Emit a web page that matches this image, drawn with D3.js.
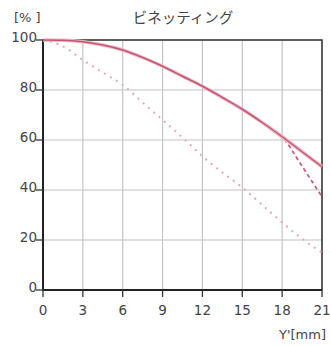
<!DOCTYPE html>
<html>
<head>
<meta charset="utf-8">
<script src="https://cdn.jsdelivr.net/npm/d3@7"></script>
<style>
  body { margin: 0; background: #fff; }
  text { font-family: "DejaVu Sans", sans-serif; fill: #444; }
</style>
</head>
<body>
<svg id="chart" width="331" height="346"></svg>
<script>
const imageHeight = [0, 1.5, 3, 4.5, 6, 7.5, 9, 10.5, 12, 13.5, 15, 16.5, 18, 19.5, 21];
const openWide   = [100, 99.9, 99.3, 98, 96, 93, 89.5, 85.5, 81.5, 77, 72.3, 67, 61.3, 55.3, 49.3];
const stoppedAlt = [100, 99.9, 99.3, 98, 96, 93, 89.5, 85.5, 81.5, 77, 72.3, 67, 61.3, 49.5, 37.3];
const cornerFall = [100, 97.5, 92, 87, 82, 75, 68, 61, 53.5, 47, 41, 34, 27, 20.5, 15];
const xTicks = [0, 3, 6, 9, 12, 15, 18, 21];
const yTicks = [0, 20, 40, 60, 80, 100];

const svg = d3.select("#chart");
const margin = {left: 43, right: 9, top: 40, bottom: 56};
const W = 331, H = 346;

const x = d3.scaleLinear().domain([0, 21]).range([margin.left, W - margin.right]);
const y = d3.scaleLinear().domain([0, 100]).range([H - margin.bottom, margin.top]);

// grid
svg.append("g").selectAll("line.vg").data(xTicks).join("line")
  .attr("x1", d => x(d)).attr("x2", d => x(d))
  .attr("y1", y(100)).attr("y2", y(0))
  .attr("stroke", "#c4c4c4").attr("stroke-width", 1.2);
svg.append("g").selectAll("line.hg").data(yTicks).join("line")
  .attr("x1", x(0)).attr("x2", x(21))
  .attr("y1", d => y(d)).attr("y2", d => y(d))
  .attr("stroke", "#c4c4c4").attr("stroke-width", 1.2);

// frame
svg.append("rect")
  .attr("x", x(0)).attr("y", y(100))
  .attr("width", x(21) - x(0)).attr("height", y(0) - y(100))
  .attr("fill", "none").attr("stroke", "#333").attr("stroke-width", 1.5);
svg.append("line").attr("x1", x(0)).attr("x2", x(0)).attr("y1", y(100)).attr("y2", y(0))
  .attr("stroke", "#222").attr("stroke-width", 2);
svg.append("line").attr("x1", x(0)).attr("x2", x(21)).attr("y1", y(0)).attr("y2", y(0))
  .attr("stroke", "#222").attr("stroke-width", 2);

// ticks
svg.append("g").selectAll("line").data(yTicks).join("line")
  .attr("x1", x(0) - 7).attr("x2", x(0))
  .attr("y1", d => y(d)).attr("y2", d => y(d))
  .attr("stroke", "#333").attr("stroke-width", 1.3);
svg.append("g").selectAll("text").data(yTicks).join("text")
  .attr("x", x(0) - 6).attr("y", d => y(d) + 2)
  .attr("text-anchor", "end").attr("font-size", 13.5)
  .text(d => d);
svg.append("g").selectAll("line").data(xTicks).join("line")
  .attr("x1", d => x(d)).attr("x2", d => x(d))
  .attr("y1", y(0)).attr("y2", y(0) + 7)
  .attr("stroke", "#333").attr("stroke-width", 1.3);
svg.append("g").selectAll("text").data(xTicks).join("text")
  .attr("x", d => x(d)).attr("y", y(0) + 25)
  .attr("text-anchor", "middle").attr("font-size", 13.5)
  .text(d => d);

svg.append("text").attr("x", 14).attr("y", 22).attr("font-size", 13).text("[% ]");
svg.append("text").attr("x", W - 5).attr("y", 339).attr("text-anchor", "end")
  .attr("font-size", 13).text("Y'[mm]");
svg.append("text").attr("x", 183).attr("y", 23).attr("text-anchor", "middle")
  .style("font-family", "'Noto Sans CJK JP', sans-serif")
  .attr("font-size", 14.5).attr("fill", "#555").text("ビネッティング");

// curves
const line = d3.line().curve(d3.curveMonotoneX)
  .x((d, i) => x(imageHeight[i])).y(d => y(d));

svg.append("path").datum(cornerFall).attr("d", line)
  .attr("fill", "none").attr("stroke", "#e8a8b8").attr("stroke-width", 2)
  .attr("stroke-dasharray", "2 5");
svg.append("path").datum(stoppedAlt).attr("d", line)
  .attr("fill", "none").attr("stroke", "#c8607c").attr("stroke-width", 1.8)
  .attr("stroke-dasharray", "4 3");
svg.append("path").datum(openWide).attr("d", line)
  .attr("fill", "none").attr("stroke", "#f0b8c4").attr("stroke-width", 3.5);
svg.append("path").datum(openWide).attr("d", line)
  .attr("fill", "none").attr("stroke", "#c05874").attr("stroke-width", 1.5);
</script>
</body>
</html>
